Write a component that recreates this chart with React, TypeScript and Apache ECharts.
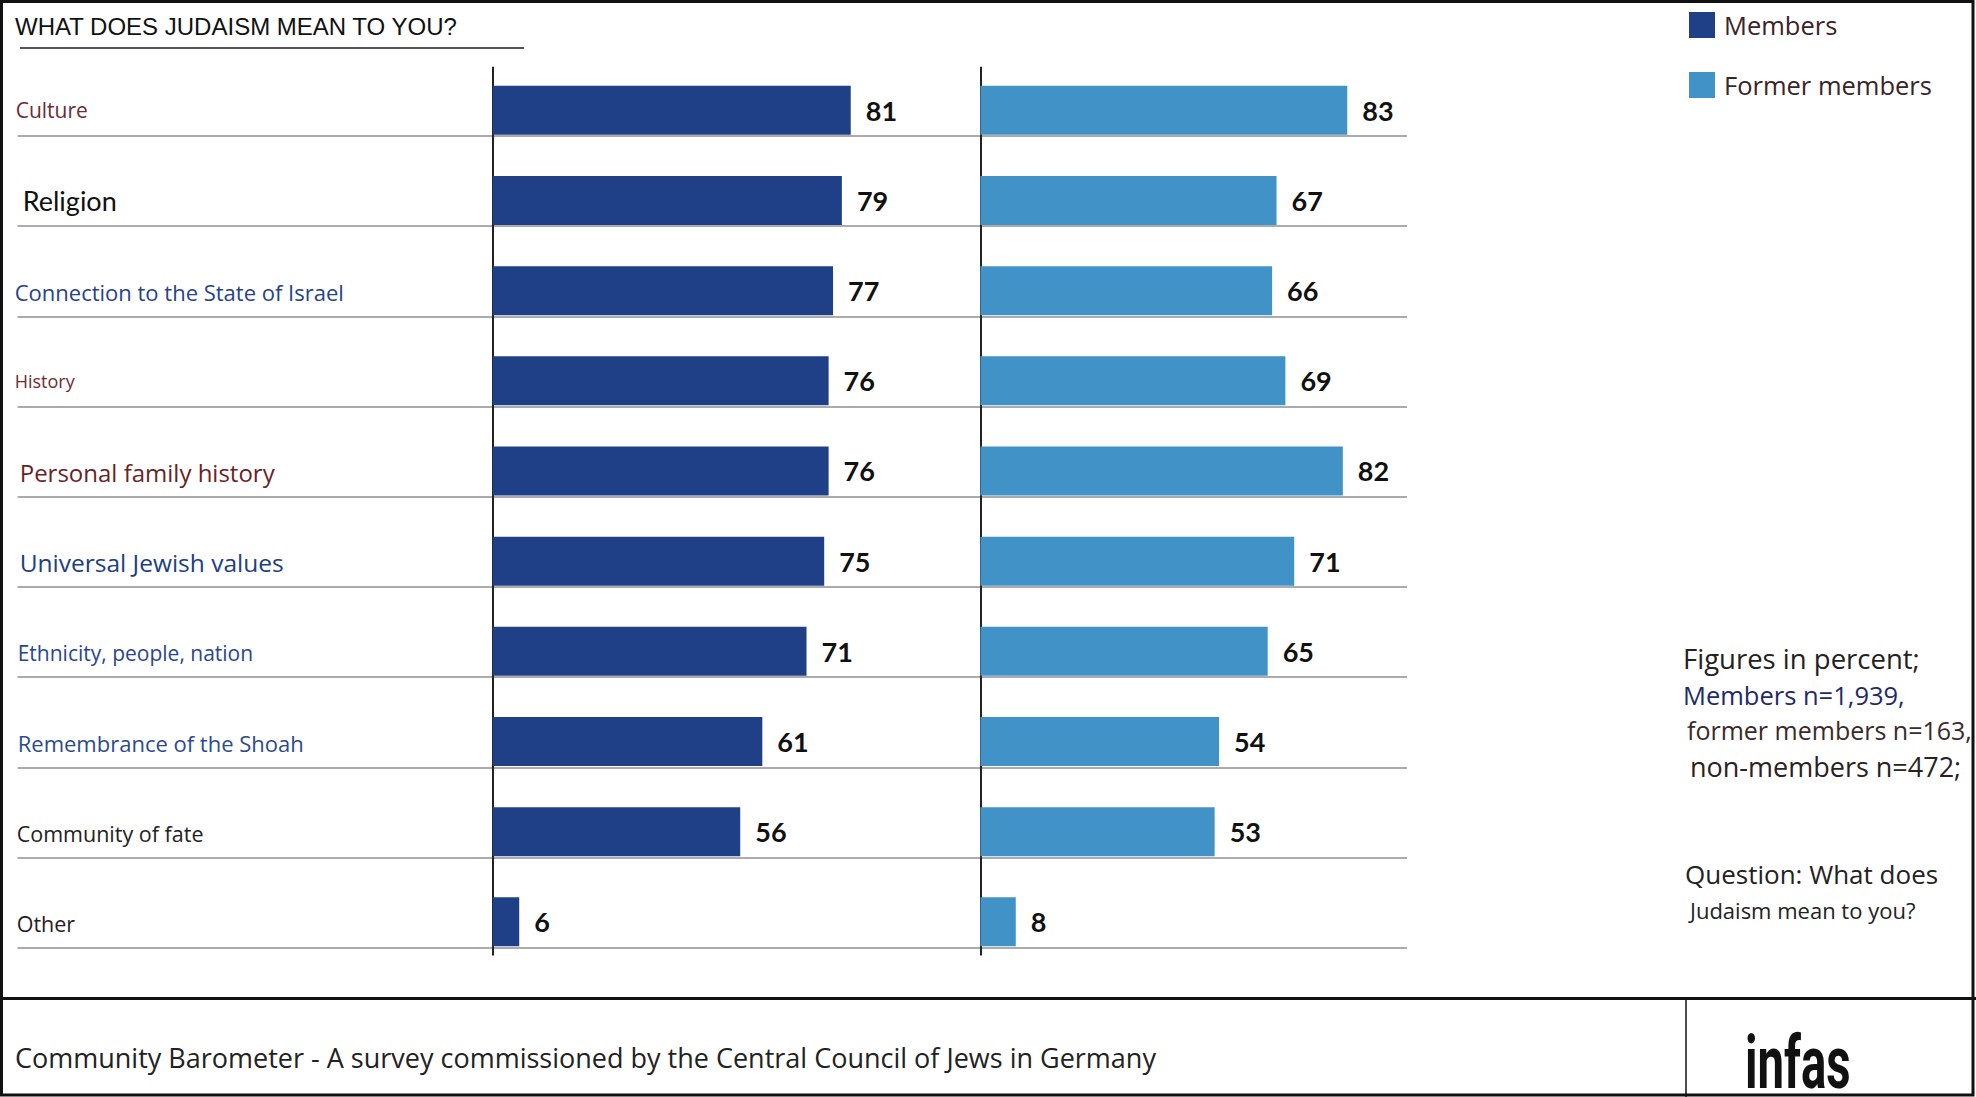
import { useEffect, useRef } from 'react'
import * as echarts from 'echarts'

// survey data, percent
const categories = [
  'Culture',
  'Religion',
  'Connection to the State of Israel',
  'History',
  'Personal family history',
  'Universal Jewish values',
  'Ethnicity, people, nation',
  'Remembrance of the Shoah',
  'Community of fate',
  'Other',
]
const members = [81, 79, 77, 76, 76, 75, 71, 61, 56, 6]
const formerMembers = [83, 67, 66, 69, 82, 71, 65, 54, 53, 8]
const seriesNames = ['Members', 'Former members']

const notes = [
  'Figures in percent;',
  'Members n=1,939,',
  'former members n=163,',
  'non-members n=472;',
]
const question = ['Question: What does', 'Judaism mean to you?']
const titleText = 'WHAT DOES JUDAISM MEAN TO YOU?'
const footerText = 'Community Barometer - A survey commissioned by the Central Council of Jews in Germany'

const NAVY = '#1F3F87'
const SKY = '#4193C7'
const SANS = '"Open Sans", "Noto Sans", sans-serif'
const ROBOTO = 'Roboto, sans-serif'

// the source slide mixes label styles row by row
const labelStyles = [
  { fontSize: 21, color: '#6d2b33', pad: [0, 0, 0, 1], font: SANS },
  { fontSize: 27, color: '#111111', pad: [0, 0, 0, 8], font: 'Lato, sans-serif' },
  { fontSize: 22, color: '#27428a', pad: [2, 0, 0, 0], font: SANS },
  { fontSize: 18, color: '#6d2b33', pad: [0, 0, 0, 0], font: SANS },
  { fontSize: 24, color: '#6b1f26', pad: [4, 0, 0, 5], font: SANS },
  { fontSize: 24.5, color: '#213d85', pad: [3, 0, 0, 5], font: SANS },
  { fontSize: 21, color: '#2a4590', pad: [3, 0, 0, 3], font: SANS },
  { fontSize: 22, color: '#2d4a8e', pad: [3, 0, 0, 3], font: SANS },
  { fontSize: 21.5, color: '#222222', pad: [3, 0, 0, 2], font: SANS },
  { fontSize: 21.5, color: '#2a1c1c', pad: [4, 0, 0, 2], font: SANS },
]

function text(x: number, y: number, t: string, size: number, fill: string, family = SANS, weight = 'normal') {
  return {
    type: 'text',
    x,
    y,
    silent: true,
    style: {
      text: t,
      fontSize: size,
      fontFamily: family,
      fontWeight: weight,
      fill,
      align: 'left',
      textAlign: 'left',
      verticalAlign: 'middle',
      textVerticalAlign: 'middle',
    },
  }
}

export default function App() {
  const elRef = useRef<HTMLDivElement>(null)

  useEffect(() => {
    if (!elRef.current) return
    const chart = echarts.init(elRef.current, undefined, { renderer: 'svg' })

    const rich: Record<string, object> = {}
    labelStyles.forEach((s, i) => {
      rich['c' + i] = {
        fontSize: s.fontSize,
        fontFamily: s.font,
        color: s.color,
        padding: s.pad,
      }
    })

    const barTop = 65.2
    const barHeight = 901.7
    const barLabel = {
      show: true,
      position: 'right',
      distance: 15,
      fontFamily: 'Lato, sans-serif',
      fontWeight: 'bold',
      fontSize: 27,
      color: '#111',
    }

    chart.setOption({
      animation: false,
      backgroundColor: '#fff',
      title: {
        text: titleText,
        left: 15,
        top: 14,
        padding: 0,
        textStyle: { fontFamily: '"Liberation Sans", Arial, sans-serif', fontSize: 24, fontWeight: 'normal', color: '#111' },
      },
      legend: {
        data: seriesNames,
        orient: 'vertical',
        left: 1689,
        top: 12,
        padding: 0,
        itemWidth: 26,
        itemHeight: 26,
        itemGap: 34,
        icon: 'rect',
        textStyle: { fontFamily: SANS, fontSize: 25.5, color: '#3b2329', padding: [0, 0, 0, 4] },
      },
      grid: [
        // row separators
        { left: 17.6, width: 1389.4, top: 45.9, height: 901.7 },
        { left: 492.7, width: 442, top: barTop, height: barHeight },
        { left: 980.4, width: 442, top: barTop, height: barHeight },
        // baselines of the two panels
        { left: 492.7, width: 487.7, top: 66.8, height: 888.7 },
      ],
      xAxis: [
        { gridIndex: 0, type: 'value', min: 0, max: 1, show: false },
        { gridIndex: 1, type: 'value', min: 0, max: 100, show: false },
        { gridIndex: 2, type: 'value', min: 0, max: 100, show: false },
        {
          gridIndex: 3,
          type: 'value',
          min: 0,
          max: 1,
          interval: 1,
          axisLine: { show: false },
          axisTick: { show: false },
          axisLabel: { show: false },
          splitLine: { show: true, lineStyle: { color: '#222', width: 2 } },
        },
      ],
      yAxis: [
        {
          gridIndex: 0,
          type: 'category',
          data: categories,
          inverse: true,
          axisLine: { show: false },
          axisTick: { show: false },
          axisLabel: { show: false },
          splitLine: {
            show: true,
            interval: (i: number) => i > 0,
            lineStyle: { color: '#ababab', width: 2 },
          },
        },
        {
          gridIndex: 1,
          type: 'category',
          data: categories,
          inverse: true,
          axisLine: { show: false },
          axisTick: { show: false },
          axisLabel: {
            interval: 0,
            align: 'left',
            margin: 478,
            formatter: (v: string, i: number) => `{c${i}|${v}}`,
            rich,
          },
        },
        {
          gridIndex: 2,
          type: 'category',
          data: categories,
          inverse: true,
          axisLine: { show: false },
          axisTick: { show: false },
          axisLabel: { show: false },
        },
        { gridIndex: 3, type: 'value', show: false },
      ],
      series: [
        {
          name: seriesNames[0],
          type: 'bar',
          xAxisIndex: 1,
          yAxisIndex: 1,
          data: members,
          barWidth: 49,
          itemStyle: { color: NAVY },
          label: barLabel,
        },
        {
          name: seriesNames[1],
          type: 'bar',
          xAxisIndex: 2,
          yAxisIndex: 2,
          data: formerMembers,
          barWidth: 49,
          itemStyle: { color: SKY },
          label: barLabel,
        },
      ],
      graphic: [
        {
          type: 'rect',
          silent: true,
          shape: { x: 1.5, y: 1.5, width: 1971.5, height: 1093.5 },
          style: { fill: 'none', stroke: '#111', lineWidth: 3 },
        },
        {
          type: 'line',
          silent: true,
          shape: { x1: 20, y1: 48, x2: 524, y2: 48 },
          style: { stroke: '#555', lineWidth: 2 },
        },
        text(1683, 658, notes[0], 27.5, '#222'),
        text(1683, 695, notes[1], 25.5, '#1f2a6b'),
        text(1687, 730, notes[2], 25, '#3a2a2a'),
        text(1690, 766, notes[3], 27, '#2a2222'),
        text(1685, 874, question[0], 26, '#222'),
        text(1690, 910, question[1], 22, '#222'),
        {
          type: 'line',
          silent: true,
          shape: { x1: 0, y1: 998.5, x2: 1976, y2: 998.5 },
          style: { stroke: '#111', lineWidth: 3 },
        },
        {
          type: 'line',
          silent: true,
          shape: { x1: 1686, y1: 1000, x2: 1686, y2: 1097 },
          style: { stroke: '#111', lineWidth: 1.5 },
        },
        text(15, 1057, footerText, 27, '#222'),
        { ...text(1745, 1062, 'infas', 74, '#111', ROBOTO, 'bold'), scaleX: 0.64 },
      ],
    })

    return () => {
      chart.dispose()
    }
  }, [])

  return (
    <div
      ref={elRef}
      style={{ position: 'fixed', left: 0, top: 0, width: 1976, height: 1097, background: '#fff' }}
    />
  )
}
